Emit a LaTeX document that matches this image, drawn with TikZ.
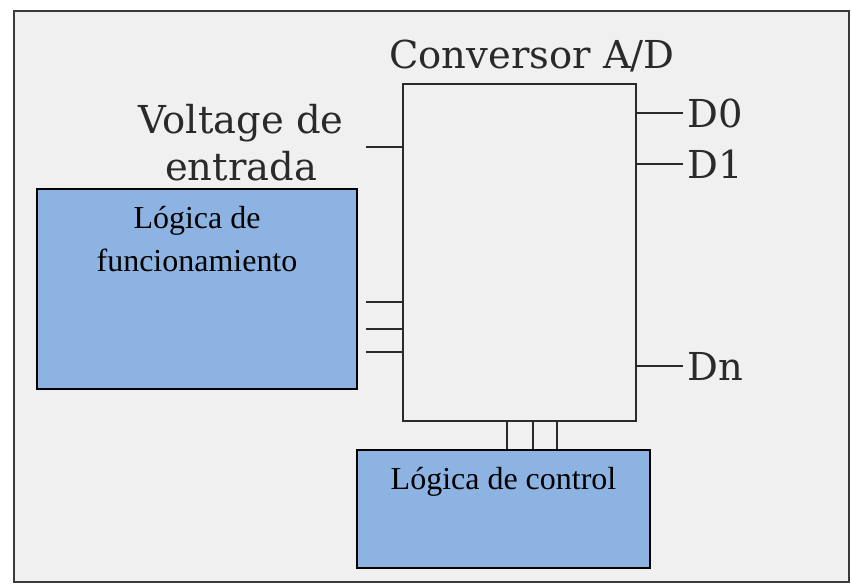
\documentclass[tikz,border=0pt]{standalone}
\usepackage{fontspec}
\setmainfont{Liberation Serif}
\newfontfamily\pinfont{DejaVu Serif}
\usetikzlibrary{positioning}
\definecolor{boxblue}{HTML}{8DB3E2}
\definecolor{panel}{HTML}{F0F0F0}
\definecolor{framegray}{HTML}{3A3A3A}
\definecolor{wiregray}{HTML}{2A2A2A}

\begin{document}
\begin{tikzpicture}[
  x=0.02cm, y=-0.02cm,
  chip/.style={draw=wiregray, line width=0.9pt, minimum width=4.66cm, minimum height=6.74cm, inner sep=0pt},
  logic/.style={draw, line width=1.1pt, fill=boxblue, inner sep=0pt},
  logictext/.style={font=\fontsize{18.2}{24.5}\selectfont, align=center, inner sep=0pt},
  pin/.style={font=\pinfont\fontsize{21.9}{26.7}\selectfont, text=wiregray, inner ysep=0pt, inner xsep=2.5pt},
  wire/.style={draw=wiregray, line width=0.85pt},
]
\useasboundingbox (0,0) rectangle (852,586);
\draw[framegray, line width=1.4pt, fill=panel] (14,11) rectangle (849,582);

% converter and its pins
\node[chip] (conv) at (519.5,252.5) {};
\node[pin, anchor=base] (convlbl) at (532,68) {Conversor A/D};
\node[pin, align=center] (vin) at (241,143) {Voltage de\\entrada};
\coordinate (vinend) at (366,147);
\draw[wire] (vinend) -- (vinend -| conv.west);

\node[pin, anchor=west] (d0) at (683,113) {D0};
\node[pin, anchor=west] (d1) at (683,164) {D1};
\node[pin, anchor=west] (dn) at (683,366) {Dn};
\foreach \d in {d0,d1,dn}
  \draw[wire] (conv.east |- \d.west) -- (\d.west);

% logic blocks
\node[logic, minimum width=6.4cm, minimum height=4cm] (fund) at (197,289) {};
\node[logictext, below=0.36cm of fund.north] (fundlbl) {Lógica de\\funcionamiento};
\node[logic, minimum width=5.86cm, minimum height=2.36cm] (ctrl) at (503.5,509) {};
\node[logictext, below=0.36cm of ctrl.north] (ctrllbl) {Lógica de control};

\foreach \y [count=\i] in {302,329,352} {
  \coordinate (fin\i) at (366,\y);
  \draw[wire] (fin\i) -- (fin\i -| conv.west);
}
\foreach \x in {507,533,557}
  \draw[wire] (\x,0 |- conv.south) -- (\x,0 |- ctrl.north);
\end{tikzpicture}
\end{document}
